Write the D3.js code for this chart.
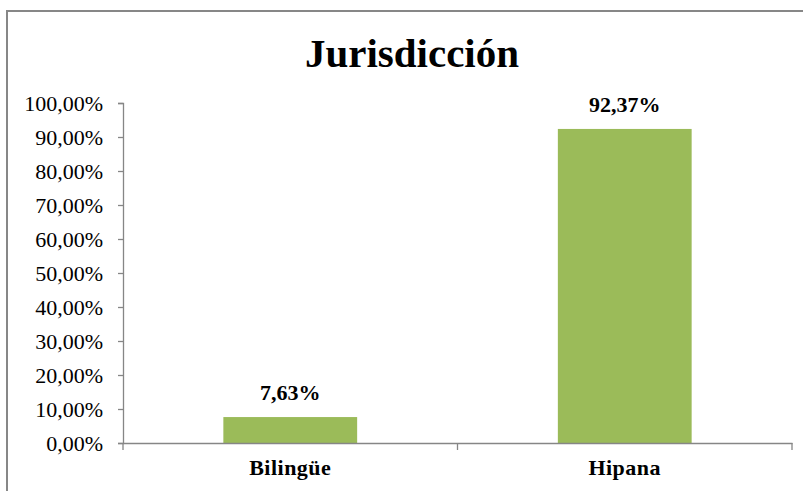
<!DOCTYPE html>
<html>
<head>
<meta charset="utf-8">
<script src="https://cdn.jsdelivr.net/npm/d3@7"></script>
<style>
html,body{margin:0;padding:0;background:#fff;}
svg{display:block;}
</style>
</head>
<body>
<script>
const categories = ["Bilingüe", "Hipana"];
const values = [7.63, 92.37];
const valueLabels = ["7,63%", "92,37%"];
const yTicks = [0,10,20,30,40,50,60,70,80,90,100];
const title = "Jurisdicción";

const W = 803, H = 491;
const svg = d3.select("body").append("svg").attr("width", W).attr("height", H);
const font = "'Liberation Serif','Times New Roman',serif";

// chart border (right/bottom cut off)
svg.append("rect").attr("x", 7).attr("y", 11).attr("width", 820).attr("height", 500)
  .attr("fill", "none").attr("stroke", "#878787").attr("stroke-width", 2);

const m = {left: 123, right: 792, top: 103, bottom: 443};
const x = d3.scaleBand().domain(categories).range([m.left, m.right]).paddingInner(0).paddingOuter(0);
const y = d3.scaleLinear().domain([0, 100]).range([m.bottom, m.top]);

const fmt = d => d.toFixed(2).replace(".", ",") + "%";

// y axis
const yAxis = svg.append("g").attr("transform", `translate(${m.left},0)`)
  .call(d3.axisLeft(y).tickValues(yTicks).tickFormat(fmt).tickSize(5).tickPadding(15));
yAxis.select(".domain").attr("stroke", "#868686").attr("stroke-width", 1.3);
yAxis.selectAll(".tick line").attr("stroke", "#868686").attr("stroke-width", 1.3);
yAxis.selectAll(".tick text").attr("font-family", font).attr("font-size", 22).attr("fill", "#000");

// bars
const bw = x.bandwidth() * 0.4;
svg.selectAll("rect.bar").data(categories).enter().append("rect")
  .attr("class", "bar")
  .attr("x", d => x(d) + (x.bandwidth() - bw) / 2)
  .attr("width", bw)
  .attr("y", (d, i) => y(values[i]))
  .attr("height", (d, i) => y(0) - y(values[i]))
  .attr("fill", "#9BBB59");

// x axis
const xAxis = svg.append("g").attr("transform", `translate(0,${m.bottom})`)
  .call(d3.axisBottom(x).tickSize(0).tickFormat(""));
xAxis.select(".domain").attr("stroke", "#868686").attr("stroke-width", 1.3);
const bounds = [m.left, m.left + x.bandwidth(), m.right];
svg.selectAll("line.xt").data(bounds).enter().append("line")
  .attr("x1", d => d).attr("x2", d => d)
  .attr("y1", m.bottom).attr("y2", m.bottom + 7)
  .attr("stroke", "#868686").attr("stroke-width", 1.3);

// category labels
svg.selectAll("text.cat").data(categories).enter().append("text")
  .attr("x", d => x(d) + x.bandwidth() / 2).attr("y", 475)
  .attr("text-anchor", "middle").attr("font-family", font).attr("font-weight", "bold")
  .attr("font-size", 22).attr("letter-spacing", 0.5).attr("fill", "#000").text(d => d);

// value labels
svg.selectAll("text.val").data(categories).enter().append("text")
  .attr("x", d => x(d) + x.bandwidth() / 2).attr("y", (d, i) => y(values[i]) - 17)
  .attr("text-anchor", "middle").attr("font-family", font).attr("font-weight", "bold")
  .attr("font-size", 22).attr("fill", "#000").text((d, i) => valueLabels[i]);

// title
svg.append("text").attr("x", 412).attr("y", 67).attr("text-anchor", "middle")
  .attr("font-family", font).attr("font-weight", "bold").attr("font-size", 41)
  .attr("fill", "#000").text(title);
</script>
</body>
</html>
